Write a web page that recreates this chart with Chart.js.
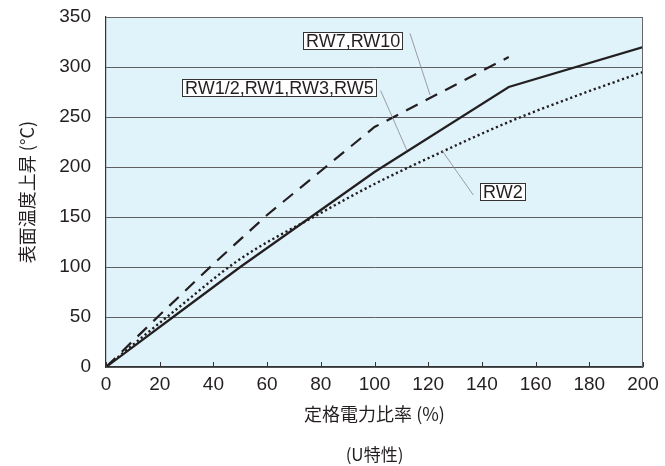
<!DOCTYPE html>
<html>
<head>
<meta charset="utf-8">
<script src="https://cdn.jsdelivr.net/npm/chart.js@4/dist/chart.umd.min.js"></script>
<style>
  html, body { margin: 0; padding: 0; background: #fff; }
  #wrap { width: 665px; height: 466px; }
</style>
</head>
<body>
<div id="wrap"><canvas id="uChart" width="665" height="466"></canvas></div>
<script>
// x: rated power ratio (%), y: surface temperature rise (°C)
const solidX = [0, 25, 50, 100, 150, 200];
const solidY = [0, 50, 100, 195, 280, 320];

const dashedX = [0, 20, 40, 60, 80, 100, 150];
const dashedY = [0, 52, 103, 152, 196, 240, 310];

const dottedX = [0, 25, 50, 80, 100, 125, 150, 175, 200];
const dottedY = [0, 55, 108, 154, 183, 215, 245, 271, 295];

const xTicks = [0, 20, 40, 60, 80, 100, 120, 140, 160, 180, 200];
const yTicks = [0, 50, 100, 150, 200, 250, 300, 350];

const labelFont = '18px "Liberation Sans", Arial, sans-serif';
const lineColor = '#231f20';

// boxed series labels and their leader lines (data coordinates)
const callouts = [
  { text: 'RW7,RW10', bx: 73.4, by: 335.3, from: [113.2, 333.7], to: [120.7, 272] },
  { text: 'RW1/2,RW1,RW3,RW5', bx: 28.2, by: 287.7, from: [102.3, 276.3], to: [112, 217] },
  { text: 'RW2', bx: 139.3, by: 183.7, from: [125, 217], to: [136.8, 172] }
];

function toPoints(xs, ys) {
  return xs.map((x, i) => ({ x: x, y: ys[i] }));
}

const plotDecor = {
  id: 'plotDecor',
  beforeDraw(chart) {
    const a = chart.chartArea;
    const ctx = chart.ctx;
    ctx.save();
    ctx.fillStyle = 'rgb(224,242,250)';
    ctx.fillRect(a.left, a.top, a.right - a.left, a.bottom - a.top);
    ctx.restore();
  },
  afterDatasetsDraw(chart) {
    const a = chart.chartArea;
    const ctx = chart.ctx;
    const xs = chart.scales.x;
    const ys = chart.scales.y;
    ctx.save();

    // frame
    ctx.strokeStyle = '#666';
    ctx.lineWidth = 1;
    ctx.beginPath();
    ctx.moveTo(a.left, a.top + 0.5);
    ctx.lineTo(a.right - 0.5, a.top + 0.5);
    ctx.lineTo(a.right - 0.5, a.bottom);
    ctx.stroke();

    // short inner tick marks on the x axis
    ctx.strokeStyle = '#333';
    xTicks.forEach(v => {
      const px = Math.round(xs.getPixelForValue(v)) + 0.5;
      ctx.beginPath();
      ctx.moveTo(px, a.bottom);
      ctx.lineTo(px, a.bottom - 5);
      ctx.stroke();
    });

    // callouts
    ctx.font = labelFont;
    ctx.textBaseline = 'middle';
    ctx.textAlign = 'left';
    callouts.forEach(c => {
      ctx.strokeStyle = '#888';
      ctx.lineWidth = 0.8;
      ctx.beginPath();
      ctx.moveTo(xs.getPixelForValue(c.from[0]), ys.getPixelForValue(c.from[1]));
      ctx.lineTo(xs.getPixelForValue(c.to[0]), ys.getPixelForValue(c.to[1]));
      ctx.stroke();

      const bx = Math.round(xs.getPixelForValue(c.bx)) + 0.5;
      const by = Math.round(ys.getPixelForValue(c.by)) + 0.5;
      const w = Math.round(ctx.measureText(c.text).width) + 5;
      const h = 17;
      ctx.fillStyle = '#fff';
      ctx.fillRect(bx, by, w, h);
      ctx.strokeStyle = '#333';
      ctx.lineWidth = 1;
      ctx.strokeRect(bx, by, w, h);
      ctx.fillStyle = lineColor;
      ctx.fillText(c.text, bx + 2.5, by + h / 2 + 1);
    });

    // caption under the axis title
    ctx.font = '17px "Noto Sans CJK JP", sans-serif';
    ctx.textAlign = 'center';
    ctx.fillStyle = '#231f20';
    ctx.fillText('(U特性)', (a.left + a.right) / 2, 455);
    ctx.restore();
  }
};

new Chart(document.getElementById('uChart').getContext('2d'), {
  type: 'line',
  data: {
    datasets: [
      {
        label: 'RW1/2,RW1,RW3,RW5',
        data: toPoints(solidX, solidY),
        borderColor: lineColor,
        borderWidth: 2.2,
        pointRadius: 0,
        tension: 0,
        fill: false
      },
      {
        label: 'RW7,RW10',
        data: toPoints(dashedX, dashedY),
        borderColor: lineColor,
        borderWidth: 2.2,
        borderDash: [13, 9],
        pointRadius: 0,
        tension: 0,
        fill: false
      },
      {
        label: 'RW2',
        data: toPoints(dottedX, dottedY),
        borderColor: lineColor,
        borderWidth: 2.4,
        borderDash: [2.2, 2.8],
        pointRadius: 0,
        cubicInterpolationMode: 'monotone',
        fill: false
      }
    ]
  },
  options: {
    responsive: false,
    animation: false,
    layout: { padding: { top: 17, right: 22, left: 0, bottom: 0 } },
    plugins: {
      legend: { display: false },
      tooltip: { enabled: false }
    },
    scales: {
      x: {
        type: 'linear',
        min: 0,
        max: 200,
        afterFit: s => { s.height = 99; s.paddingLeft = 0; s.paddingRight = 0; },
        afterBuildTicks: s => { s.ticks = xTicks.map(v => ({ value: v })); },
        grid: { display: false, drawTicks: false },
        border: { display: true, color: '#333', width: 1.2 },
        ticks: {
          padding: 6,
          color: '#231f20',
          maxRotation: 0,
          font: { family: '"Liberation Sans", Arial, sans-serif', size: 19 }
        },
        title: {
          display: true,
          text: '定格電力比率 (%)',
          color: '#231f20',
          padding: { top: 0, bottom: 41 },
          font: { family: '"Noto Sans CJK JP", sans-serif', size: 18 }
        }
      },
      y: {
        min: 0,
        max: 350,
        afterFit: s => { s.width = 106; s.paddingTop = 0; s.paddingBottom = 0; },
        afterBuildTicks: s => { s.ticks = yTicks.map(v => ({ value: v })); },
        grid: { color: '#5f5f5f', lineWidth: 1, drawTicks: false },
        border: { display: true, color: '#333', width: 1.2 },
        ticks: {
          padding: 15,
          color: '#231f20',
          font: { family: '"Liberation Sans", Arial, sans-serif', size: 19 }
        },
        title: {
          display: true,
          text: '表面温度上昇 (°C)',
          color: '#231f20',
          padding: { top: 16, bottom: 0 },
          font: { family: '"Noto Sans CJK JP", sans-serif', size: 18 }
        }
      }
    }
  },
  plugins: [plotDecor]
});
</script>
</body>
</html>
